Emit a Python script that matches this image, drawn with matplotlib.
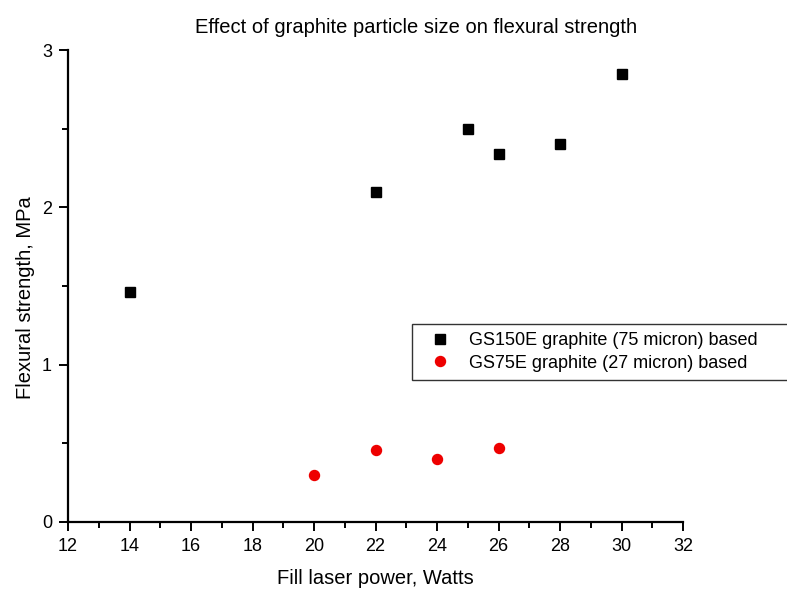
import numpy as np
from matplotlib import pyplot as plt
from matplotlib.ticker import MultipleLocator

plt.rcParams['font.family'] = ['Liberation Sans', 'DejaVu Sans']

# GS150E series (black squares)
power_150 = [14, 22, 25, 26, 28, 30]
strength_150 = [1.46, 2.10, 2.50, 2.34, 2.40, 2.85]

# GS75E series (red circles)
power_75 = [20, 22, 24, 26]
strength_75 = [0.30, 0.46, 0.40, 0.47]

label_150 = "GS150E graphite (75 micron) based"
label_75 = "GS75E graphite (27 micron) based"

fig = plt.figure(figsize=(7.87, 5.89), dpi=100)
ax = fig.add_axes([0.0864, 0.1138, 0.7815, 0.8013])

ax.plot(power_150, strength_150, 's', color='black', markersize=7.2, label=label_150)
ax.plot(power_75, strength_75, 'o', color='#ee0000', markersize=7.2, label=label_75)

ax.set_xlim(12, 32)
ax.set_ylim(0, 3)
ax.xaxis.set_major_locator(MultipleLocator(2))
ax.xaxis.set_minor_locator(MultipleLocator(1))
ax.yaxis.set_major_locator(MultipleLocator(1))
ax.yaxis.set_minor_locator(MultipleLocator(0.5))

for side in ['top', 'right']:
    ax.spines[side].set_visible(False)
for side in ['left', 'bottom']:
    ax.spines[side].set_linewidth(1.6)

ax.tick_params(which='major', direction='out', length=6.5, width=1.4, labelsize=13, pad=5)
ax.tick_params(which='minor', direction='out', length=4, width=1.4)

ax.set_xlabel("Fill laser power, Watts", fontsize=14.5, labelpad=10)
ax.set_ylabel("Flexural strength, MPa", fontsize=14.5)
ax.yaxis.set_label_coords(-0.054, 0.476)
ax.set_title("Effect of graphite particle size on flexural strength", fontsize=14.5, pad=12, x=0.566)

# legend box runs off the right edge like the original
leg = fig.legend(loc='upper left', bbox_to_anchor=(412 / 787, 1 - 380 / 589, 420 / 787, 56 / 589),
                 mode='expand', fontsize=13, frameon=True, fancybox=False, edgecolor='black',
                 handletextpad=0.5, borderpad=0.45, labelspacing=0.3,
                 handlelength=2.2, borderaxespad=0)
leg.get_frame().set_linewidth(1.0)

plt.savefig("out.png", dpi=100)
